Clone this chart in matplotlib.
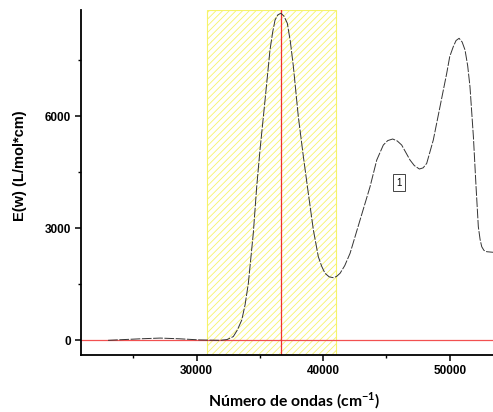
import matplotlib
matplotlib.use("Agg")
import matplotlib.pyplot as plt
from matplotlib.ticker import MultipleLocator

# spectrum
wavenumber = [22990, 25520, 27100, 28680, 30260, 31840, 32400, 32890, 33200,
              33560, 33820, 34080, 34470, 34740, 35000, 35400, 35790, 36000,
              36190, 36420, 36660, 36900, 37160, 37400, 37640, 38030, 38430,
              38820, 39220, 39610, 39880, 40140, 40470, 40800, 41050, 41330,
              41700, 42120, 42910, 43700, 44230, 44750, 45100, 45490, 45850,
              46200, 46860, 47200, 47600, 47900, 48180, 48700, 49230, 49760,
              50000, 50280, 50500, 50740, 50980, 51210, 51420, 51600, 51870,
              52080, 52260, 52400, 52530, 52700, 52930, 53450]
epsilon = [0, 40, 60, 40, 10, 0, 20, 100, 270,
           544, 950, 1527, 2866, 4114, 5097, 6436, 7775, 8250,
           8580, 8720, 8759, 8680, 8491, 8000, 7330, 5990, 4918,
           3938, 2955, 2240, 1980, 1795, 1700, 1677, 1710, 1795,
           2000, 2330, 3222, 4114, 4829, 5231, 5350, 5392, 5340,
           5231, 4829, 4680, 4588, 4620, 4740, 5365, 6257, 7150,
           7600, 7865, 8030, 8089, 7990, 7775, 7350, 6793, 5454,
           4114, 3043, 2700, 2507, 2410, 2373, 2357]

band_lo, band_hi = 30800, 41000
peak_x = 36650
label_pos = (46000, 4220)

x_ticks = [30000, 40000, 50000]
y_ticks = [0, 3000, 6000]

plt.rcParams['font.family'] = ['Liberation Sans', 'DejaVu Sans']
plt.rcParams['hatch.linewidth'] = 0.6

fig = plt.figure(figsize=(4.93, 4.12), dpi=100)
ax = fig.add_axes([0.1643, 0.1383, 0.8357, 0.8374])

# yellow hatched band
ax.axvspan(band_lo, band_hi, facecolor='none', edgecolor='#f6f36a',
           hatch='/////', lw=0.8, zorder=1)

ax.axhline(0, color='#f25050', lw=0.9, zorder=2)
ax.axvline(peak_x, color='#f03030', lw=0.9, zorder=2)

ax.plot(wavenumber, epsilon, color='#333333', lw=0.7,
        linestyle=(0, (10, 1.6)), zorder=3)

ax.text(label_pos[0], label_pos[1], '1', fontsize=7, ha='center', va='center',
        bbox=dict(boxstyle='square,pad=0.35', fc='white', ec='#444444', lw=0.7))

ax.set_xlim(20850, 53420)
ax.set_ylim(-394, 8847)
ax.set_xticks(x_ticks)
ax.set_yticks(y_ticks)
ax.xaxis.set_minor_locator(MultipleLocator(5000))
ax.yaxis.set_minor_locator(MultipleLocator(1500))

for s in ['top', 'right']:
    ax.spines[s].set_visible(False)
for s in ['left', 'bottom']:
    ax.spines[s].set_linewidth(1.3)

ax.tick_params(which='major', direction='out', length=4, width=1.1,
               labelsize=8.5, pad=3)
ax.tick_params(which='minor', direction='out', length=2.5, width=1.0)
for lab in ax.get_xticklabels() + ax.get_yticklabels():
    lab.set_fontweight('bold')

# axis titles placed where they sit in the original
fig.text(20 / 493, 1 - 166 / 412, 'E(w) (L/mol*cm)', fontsize=10.5,
         fontweight='bold', rotation=90, ha='center', va='center')
fig.text(294 / 493, 1 - 401 / 412, r'Número de ondas (cm$^{\mathregular{-1}}$)',
         fontsize=11.3, fontweight='bold', family=['Lato', 'DejaVu Sans'],
         ha='center', va='center')

fig.savefig('out.png', dpi=100)
